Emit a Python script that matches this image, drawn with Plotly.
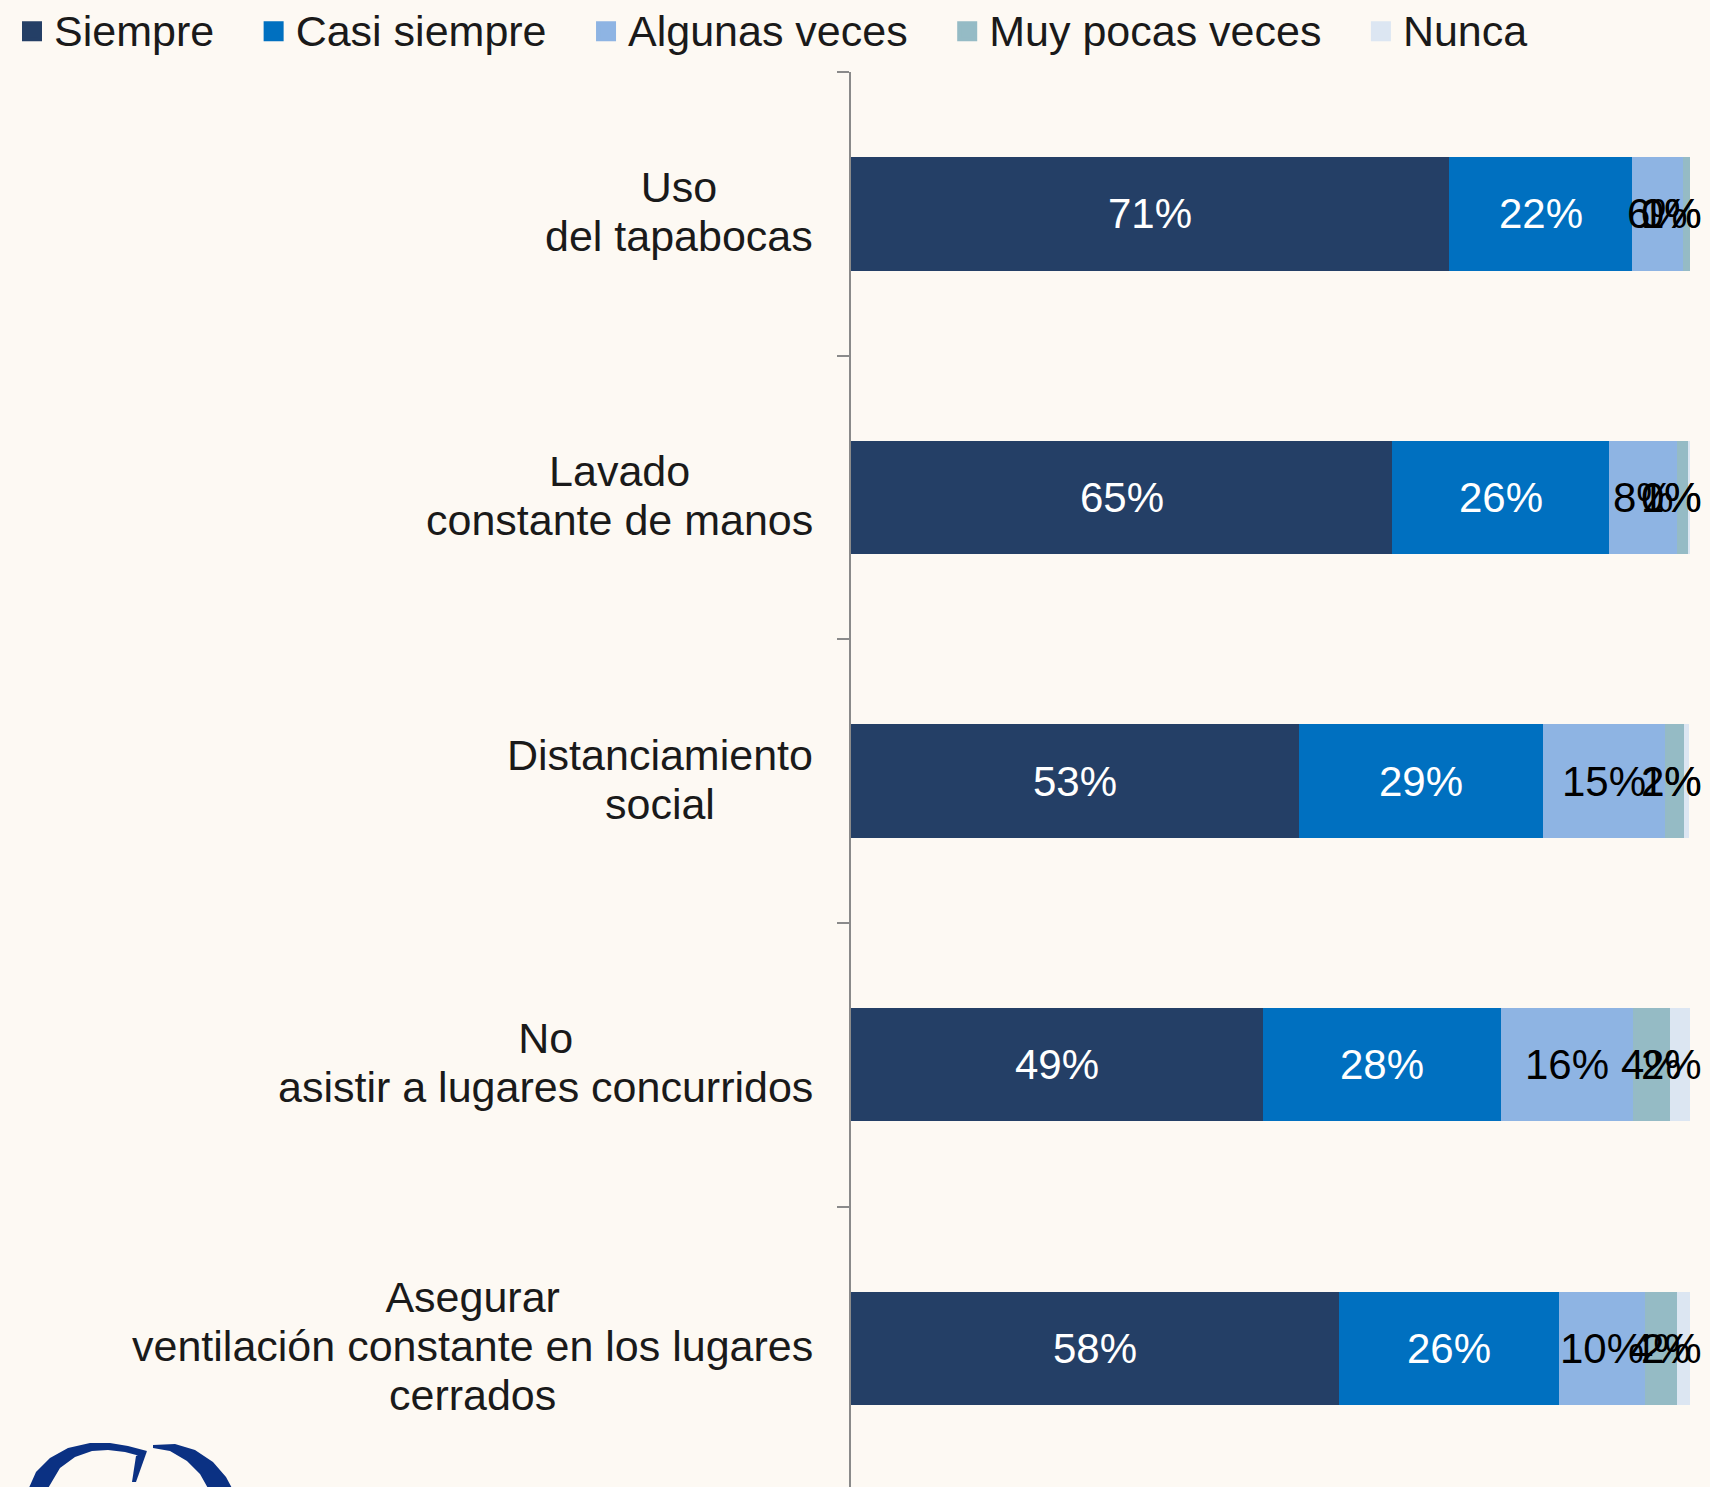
import math
import plotly.graph_objects as go

# ---------------- data ----------------
categories = [
    "Uso<br>del tapabocas",
    "Lavado<br>constante de manos",
    "Distanciamiento<br>social",
    "No<br>asistir a lugares concurridos",
    "Asegurar<br>ventilación constante en los lugares<br>cerrados",
]
series_names = ["Siempre", "Casi siempre", "Algunas veces", "Muy pocas veces", "Nunca"]
siempre = [71.3, 64.5, 53.4, 49.1, 58.2]
casi_siempre = [21.8, 25.9, 29.1, 28.4, 26.2]
algunas_veces = [6.1, 8.1, 14.5, 15.7, 10.2]
muy_pocas_veces = [0.8, 1.3, 2.3, 4.4, 3.8]
nunca = [0.0, 0.2, 0.6, 2.4, 1.7]
series_values = [siempre, casi_siempre, algunas_veces, muy_pocas_veces, nunca]

colors = ["#243F66", "#0070C0", "#8EB4E3", "#95BBC5", "#DCE6F2"]
text_colors = ["white", "white", "black", "black", "black"]

W, H = 1710, 1487
ML, MR, MT, MB = 851, 20, 72, 0
BG = "#FDF9F3"
FONT = "Liberation Sans, Arial, sans-serif"
PAD = "\u00a0\u00a0\u2009"
LABEL_SIZE = 42
pw = W - ML - MR
ph = H - MT - MB

fig = go.Figure()
for name, vals, col in zip(series_names, series_values, colors):
    fig.add_trace(go.Bar(
        y=categories, x=vals, name=name, orientation="h",
        marker=dict(color=col, line=dict(width=0)),
        textposition="none", width=0.4, showlegend=False,
    ))
for name, col in zip(series_names, colors):
    fig.add_trace(go.Scatter(
        x=[None], y=[None], mode="markers",
        name=f"<span style='font-size:43px'>{name}{PAD}</span>",
        marker=dict(symbol="square", size=16, color=col, line=dict(width=4, color=col)),
        showlegend=True,
    ))

annotations = []
# value labels, centered on each segment, kept inside the chart's right edge
right_limit = (1702 - ML) / pw * 100
cum = [0.0] * len(categories)
for vals, tcol in zip(series_values, text_colors):
    for i, v in enumerate(vals):
        txt = f"{math.floor(v + 0.5):d}%"
        wpx = (0.556 * (len(txt) - 1) + 0.889) * LABEL_SIZE
        hw = wpx / 2 / pw * 100
        cx = cum[i] + v / 2
        if cx + hw > right_limit:
            cx = right_limit - hw
        annotations.append(dict(
            x=cx, xref="x", xanchor="center", y=categories[i], yref="y", yanchor="middle",
            text=txt, showarrow=False,
            font=dict(size=LABEL_SIZE, family=FONT, color=tcol),
        ))
        cum[i] += v

# category labels (centered lines, right-aligned block)
for cat in categories:
    styled = "<br>".join(f"<span style='font-size:43px'>{ln}</span>" for ln in cat.split("<br>"))
    annotations.append(dict(
        x=0, xref="paper", xshift=-36, xanchor="right", align="center",
        y=cat, yref="y", yanchor="middle", yshift=2,
        text=styled, showarrow=False,
        font=dict(size=37.7, family=FONT, color="#1a1a1a"),
    ))

# logo (decorative) in pixel -> paper conversion
def P(pts):
    s = ""
    for j, (px, py) in enumerate(pts):
        xp = (px - ML) / pw
        yp = 1 - (py - MT) / ph
        s += ("M" if j == 0 else "L") + f"{xp:.5f},{yp:.5f} "
    return s + "Z"

logo_col = "#0B3183"
left_arc = [(28, 1490), (36, 1472), (50, 1458), (68, 1448), (90, 1443), (110, 1443),
            (128, 1446), (147, 1451), (140, 1456), (125, 1452), (108, 1450), (92, 1451),
            (75, 1457), (60, 1468), (47, 1490)]
spur = [(147, 1451), (136, 1482), (132, 1482), (136, 1456)]
right_arc = [(153, 1445), (175, 1444), (195, 1450), (213, 1462), (226, 1477), (233, 1490),
             (209, 1490), (200, 1474), (187, 1461), (170, 1451), (153, 1448)]
shapes = [dict(type="path", xref="paper", yref="paper", path=P(p),
               fillcolor=logo_col, line=dict(width=0), layer="above")
          for p in (left_arc, spur, right_arc)]

fig.update_layout(
    width=W, height=H,
    margin=dict(l=ML, r=MR, t=MT, b=MB, pad=0),
    paper_bgcolor=BG, plot_bgcolor=BG,
    barmode="stack",
    font=dict(family=FONT, size=43, color="#1a1a1a"),
    legend=dict(
        orientation="h", xref="paper", yref="paper",
        x=(10 - ML) / pw, y=1 + MT / ph, xanchor="left", yanchor="top",
        traceorder="normal",
        font=dict(size=38, family=FONT, color="#1a1a1a"),
        bgcolor="rgba(0,0,0,0)", itemwidth=34, tracegroupgap=0,
    ),
    xaxis=dict(range=[0, 100], visible=False, fixedrange=True),
    yaxis=dict(
        type="category", categoryorder="array", categoryarray=categories,
        range=[4.489, -0.5], showticklabels=False, fixedrange=True,
        tickson="boundaries", ticks="outside", ticklen=12, tickwidth=2, tickcolor="#8A8A8A",
        showline=True, linecolor="#8A8A8A", linewidth=2, showgrid=False, zeroline=False,
    ),
    annotations=annotations,
    shapes=shapes,
)

fig.write_html("out.html", config={"displayModeBar": False},
               post_script="document.body.style.margin='0';")
